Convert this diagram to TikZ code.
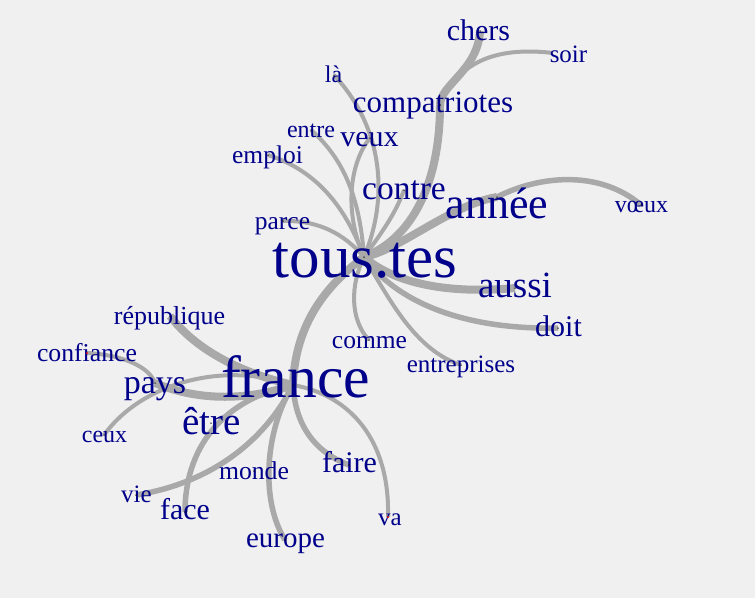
\documentclass[tikz,border=0pt]{standalone}
\usepackage{fontspec}
\setmainfont{Liberation Serif}
\definecolor{bgc}{HTML}{F0F0F0}
\definecolor{wordc}{HTML}{00008B}
\definecolor{edgec}{HTML}{A9A9A9}
\newcommand{\wfs}[1]{\fontsize{#1}{#1}\selectfont}
\begin{document}
\begin{tikzpicture}[x=1pt,y=-1pt,
  w/.style={text=wordc, inner sep=0pt, anchor=base},
  ethick/.style={draw=edgec, line width=8pt},
  emed/.style={draw=edgec, line width=5.5pt},
  ethin/.style={draw=edgec, line width=4pt},
  vdot/.style={fill=black, circle, inner sep=0pt, minimum size=1.5pt},
  rdot/.style={fill=red, circle, inner sep=0pt, minimum size=2pt}]
\fill[bgc] (0,0) rectangle (755,598);
\useasboundingbox (0,0) rectangle (755,598);
% vertices
\coordinate (hub) at (364,257);
\coordinate (compat) at (440,105);
\coordinate (chers) at (480,31);
\coordinate (soir) at (553,53);
\coordinate (la) at (334,75);
\coordinate (veux) at (370,138);
\coordinate (entre) at (311,130);
\coordinate (emploi) at (268,155);
\coordinate (parce) at (283,221);
\coordinate (contre) at (404,190);
\coordinate (annee) at (497,197);
\coordinate (voeux) at (641,205);
\coordinate (aussi) at (515,288);
\coordinate (doit) at (558,328);
\coordinate (entrep) at (461,365);
\coordinate (comme) at (369,340);
\coordinate (france) at (293,385);
\coordinate (repub) at (170,316);
\coordinate (pays) at (155,383);
\coordinate (ceux) at (104,435);
\coordinate (confiance) at (87,353);
\coordinate (vie) at (136,495);
\coordinate (face) at (185,512);
\coordinate (europe) at (285,540);
\coordinate (faire) at (349,465);
\coordinate (va) at (388,517);
\coordinate (monde) at (254,471);
\coordinate (etre) at (211,423);
% edges
\draw[ethick] (hub) .. controls (420,235) and (440,170) .. (compat);
\draw[ethick] (compat) .. controls (440,85) and (478,70) .. (chers);
\draw[ethin] (compat) .. controls (455,70) and (485,45) .. (soir);
\draw[ethin] (hub) .. controls (388,200) and (385,130) .. (la);
\draw[ethin] (hub) .. controls (345,215) and (348,165) .. (veux);
\draw[ethin] (hub) .. controls (360,200) and (345,160) .. (entre);
\draw[ethin] (hub) .. controls (345,205) and (315,170) .. (emploi);
\draw[ethin] (hub) .. controls (345,235) and (320,220) .. (parce);
\draw[ethin] (hub) .. controls (380,235) and (395,215) .. (contre);
\draw[ethick] (hub) .. controls (400,250) and (450,205) .. (annee);
\draw[emed] (annee) .. controls (540,175) and (600,170) .. (voeux);
\draw[ethick] (hub) .. controls (390,280) and (440,295) .. (aussi);
\draw[emed] (hub) .. controls (395,300) and (460,330) .. (doit);
\draw[ethin] (hub) .. controls (390,300) and (415,350) .. (entrep);
\draw[ethin] (hub) .. controls (350,285) and (350,320) .. (comme);
\draw[ethick] (hub) .. controls (320,290) and (295,330) .. (france);
\draw[ethick] (france) .. controls (250,375) and (200,355) .. (repub);
\draw[ethick] (france) .. controls (250,400) and (200,402) .. (pays);
\draw[ethin] (ceux) .. controls (140,385) and (220,360) .. (france);
\draw[ethin] (confiance) .. controls (125,355) and (150,368) .. (pays);
\draw[emed] (france) .. controls (265,430) and (260,500) .. (europe);
\draw[emed] (france) .. controls (295,420) and (310,450) .. (faire);
\draw[ethin] (france) .. controls (350,395) and (390,440) .. (va);
\draw[emed] (vie) .. controls (200,485) and (260,450) .. (france);
\draw[emed] (face) .. controls (185,450) and (220,400) .. (france);
% labels
\node[w, font=\wfs{30}] (l-chers) at (478.5,40) {chers};
\node[w, font=\wfs{25}] (l-soir) at (568.5,62) {soir};
\node[w, font=\wfs{24}] (l-la) at (333.5,82) {là};
\node[w, font=\wfs{31}] (l-compat) at (433,112) {compatriotes};
\node[w, font=\wfs{24}] (l-entre) at (311,137) {entre};
\node[w, font=\wfs{30}] (l-veux) at (369.5,146) {veux};
\node[w, font=\wfs{25.5}] (l-emploi) at (267.5,163) {emploi};
\node[w, font=\wfs{33.5}] (l-contre) at (404,199) {contre};
\node[w, font=\wfs{44}] (l-annee) at (497,218) {année};
\node[w, font=\wfs{24}] (l-voeux) at (641.5,212) {vœux};
\node[w, font=\wfs{25.5}] (l-parce) at (282.5,229) {parce};
\node[w, font=\wfs{61}] (l-hub) at (365,277) {tous.tes};
\node[w, font=\wfs{37}] (l-aussi) at (515,297) {aussi};
\node[w, font=\wfs{30}] (l-doit) at (558.5,336) {doit};
\node[w, font=\wfs{25.5}] (l-comme) at (369.5,348) {comme};
\node[w, font=\wfs{25}] (l-entrep) at (461,372) {entreprises};
\node[w, font=\wfs{26}] (l-repub) at (169.5,324) {république};
\node[w, font=\wfs{25.7}] (l-confiance) at (87,361) {confiance};
\node[w, font=\wfs{34}] (l-pays) at (155,393) {pays};
\node[w, font=\wfs{59.6}] (l-france) at (295.5,397) {france};
\node[w, font=\wfs{39}] (l-etre) at (211.5,434) {être};
\node[w, font=\wfs{24}] (l-ceux) at (104.5,442) {ceux};
\node[w, font=\wfs{30}] (l-faire) at (349.5,472) {faire};
\node[w, font=\wfs{25.7}] (l-monde) at (254,479) {monde};
\node[w, font=\wfs{25}] (l-vie) at (136.5,502) {vie};
\node[w, font=\wfs{30}] (l-face) at (185,519) {face};
\node[w, font=\wfs{25}] (l-va) at (390,525) {va};
\node[w, font=\wfs{29}] (l-europe) at (285.5,547) {europe};
% vertex dots
\foreach \v in {hub,compat,chers,la,veux,entre,emploi,parce,contre,annee,voeux,aussi,doit,entrep,comme,france,repub,pays,ceux,vie,face,europe,faire,monde,etre}
  \node[vdot] (d-\v) at (\v) {};
\node[rdot] (d-va) at (va) {};
\node[rdot] (d-confiance) at (confiance) {};
\end{tikzpicture}
\end{document}
